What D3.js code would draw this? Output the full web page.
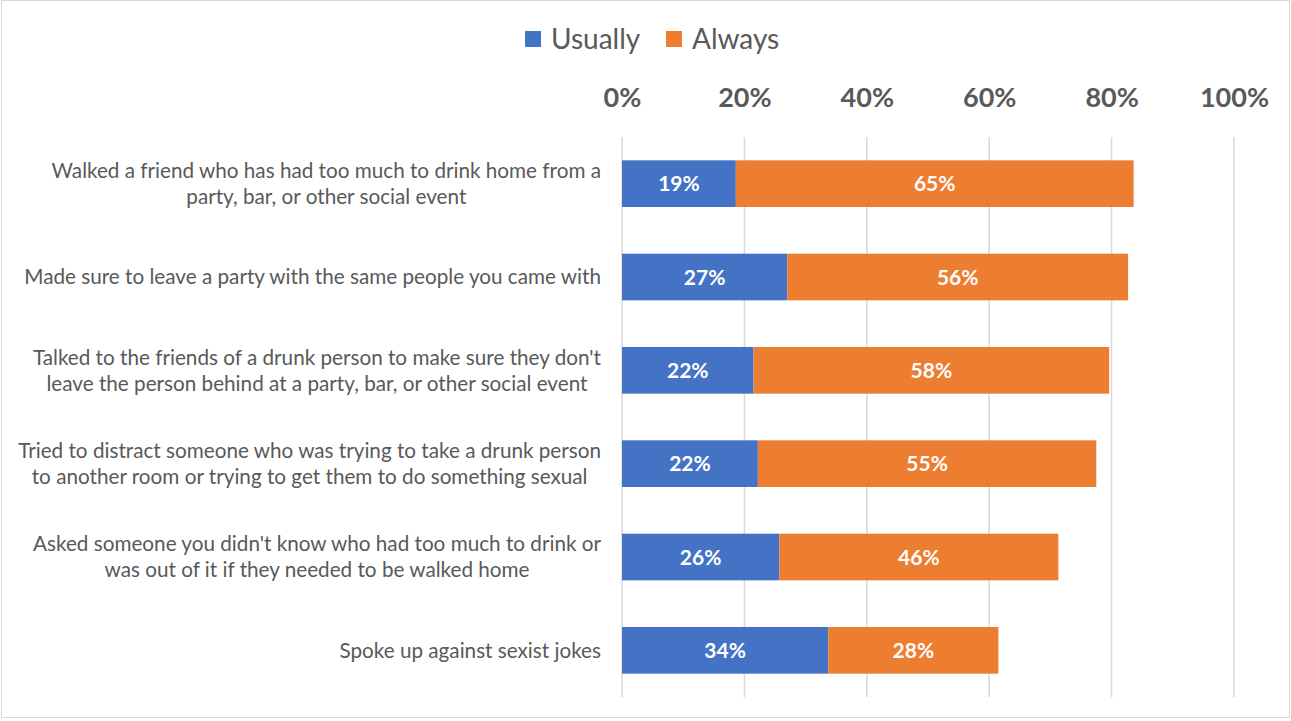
<!DOCTYPE html>
<html>
<head>
<meta charset="utf-8">
<script src="https://cdn.jsdelivr.net/npm/d3@7"></script>
<style>
  html, body { margin: 0; padding: 0; background: #fff; }
  svg { display: block; font-family: Lato, "Open Sans", sans-serif; }
</style>
</head>
<body>
<svg id="chart" width="1291" height="721"></svg>
<script>
// Survey items (each entry is a list of the label's lines)
const categories = [
  ["Walked a friend who has had too much to drink home from a", "party, bar, or other social event"],
  ["Made sure to leave a party with the same people you came with"],
  ["Talked to the friends of a drunk person to make sure they don't", "leave the person behind at a party, bar, or other social event"],
  ["Tried to distract someone who was trying to take a drunk person", "to another room or trying to get them to do something sexual"],
  ["Asked someone you didn't know who had too much to drink or", "was out of it if they needed to be walked home"],
  ["Spoke up against sexist jokes"]
];
const seriesNames = ["Usually", "Always"];
const usually = [18.6, 27.0, 21.5, 22.2, 25.7, 33.7];
const always  = [65.0, 55.7, 58.1, 55.3, 45.6, 27.8];
const tickValues = [0, 20, 40, 60, 80, 100];

const colors = ["#4472C4", "#ED7D31"];
const textGray = "#595959";
const gridGray = "#D9D9D9";

const svg = d3.select("#chart");
const W = 1291, H = 721;

// outer frame
svg.append("rect")
  .attr("x", 1.5).attr("y", 0.5).attr("width", W - 3).attr("height", H - 4)
  .attr("fill", "#fff").attr("stroke", gridGray).attr("stroke-width", 1);

const plot = { left: 622, right: 1234, top: 137, bottom: 697 };

const x = d3.scaleLinear().domain([0, 100]).range([plot.left, plot.right]);
const y = d3.scaleBand()
  .domain(d3.range(categories.length))
  .range([plot.top, plot.bottom])
  .paddingInner(0.5).paddingOuter(0.25);

// gridlines
svg.append("g")
  .selectAll("line")
  .data(tickValues)
  .join("line")
  .attr("x1", d => x(d)).attr("x2", d => x(d))
  .attr("y1", plot.top).attr("y2", plot.bottom)
  .attr("stroke", gridGray).attr("stroke-width", 1.5);

// top axis labels
const xAxis = d3.axisTop(x)
  .tickValues(tickValues)
  .tickFormat(d => d + "%")
  .tickSize(0)
  .tickPadding(0);
const axisG = svg.append("g")
  .attr("transform", `translate(0, 107)`)
  .call(xAxis);
axisG.select(".domain").remove();
axisG.selectAll("text")
  .attr("fill", textGray)
  .attr("font-size", 27)
  .attr("font-weight", "bold")
  .attr("font-family", "Lato, sans-serif");

// stacked bars
const rows = categories.map((c, i) => ({ i, vals: [usually[i], always[i]] }));
const segs = [];
rows.forEach(r => {
  let acc = 0;
  r.vals.forEach((v, s) => {
    segs.push({ row: r.i, s, x0: acc, x1: acc + v, v });
    acc += v;
  });
});

svg.append("g")
  .selectAll("rect")
  .data(segs)
  .join("rect")
  .attr("x", d => x(d.x0))
  .attr("y", d => y(d.row))
  .attr("width", d => x(d.x1) - x(d.x0))
  .attr("height", y.bandwidth())
  .attr("fill", d => colors[d.s]);

// value labels
svg.append("g")
  .selectAll("text")
  .data(segs)
  .join("text")
  .attr("x", d => (x(d.x0) + x(d.x1)) / 2)
  .attr("y", d => y(d.row) + y.bandwidth() / 2)
  .attr("dy", "0.36em")
  .attr("text-anchor", "middle")
  .attr("fill", "#fff")
  .attr("font-size", 21)
  .attr("font-weight", "bold")
  .text(d => Math.round(d.v) + "%");

// category labels: centred lines, block right-aligned to the axis gap
const labelRight = 601;
const lineH = 26;
const catG = svg.append("g");
categories.forEach((lines, i) => {
  const cy = y(i) + y.bandwidth() / 2;
  const t = catG.append("text")
    .attr("fill", textGray)
    .attr("font-size", 20.7)
    .attr("text-anchor", "middle");
  const spans = t.selectAll("tspan")
    .data(lines)
    .join("tspan")
    .attr("y", (d, k) => cy + (k - (lines.length - 1) / 2) * lineH)
    .attr("dy", "0.35em")
    .text(d => d);
  let maxW = 0;
  spans.each(function () { maxW = Math.max(maxW, this.getComputedTextLength()); });
  spans.attr("x", labelRight - maxW / 2);
});

// legend
const legend = svg.append("g").attr("transform", "translate(525, 39)");
const legendX = [0, 141];
seriesNames.forEach((name, k) => {
  const g = legend.append("g").attr("transform", `translate(${legendX[k]}, 0)`);
  g.append("rect").attr("x", 0).attr("y", -8).attr("width", 16).attr("height", 16)
    .attr("fill", colors[k]);
  g.append("text").attr("x", 26).attr("y", 0).attr("dy", "0.35em")
    .attr("fill", textGray).attr("font-size", 28).text(name);
});
</script>
</body>
</html>
